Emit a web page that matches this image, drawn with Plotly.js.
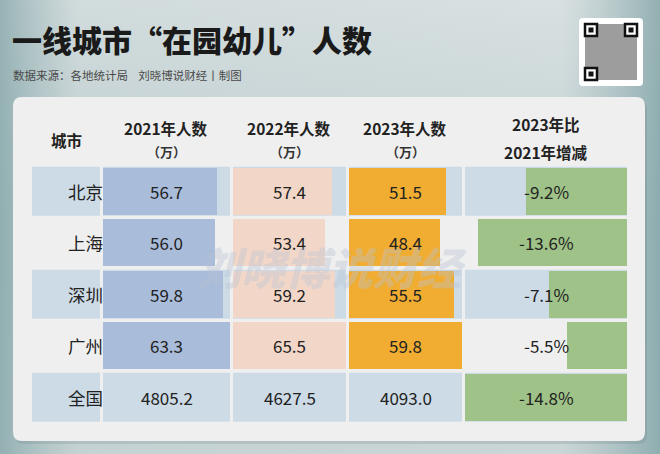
<!DOCTYPE html>
<html>
<head>
<meta charset="utf-8">
<script src="https://cdn.plot.ly/plotly-3.0.1.min.js"></script>
<style>
  html, body { margin: 0; padding: 0; background: #ccd6d8; }
  #plotArea { width: 660px; height: 454px; }
</style>
</head>
<body>
<div id="plotArea"></div>
<script>
var cities = ["北京", "上海", "深圳", "广州", "全国"]
var v2021 = [56.7, 56.0, 59.8, 63.3, 4805.2]
var v2022 = [57.4, 53.4, 59.2, 65.5, 4627.5]
var v2023 = [51.5, 48.4, 55.5, 59.8, 4093.0]
var change = [-9.2, -13.6, -7.1, -5.5, -14.8]   // percent, 2023 vs 2021

var W = 660, H = 454
var FONT = "Noto Sans CJK SC, Noto Sans, sans-serif"

// pixel -> paper helpers
var px = x => x / W
var py = y => 1 - y / H

// the four data-bar columns (pixel edges of each cell)
var cols = [
    { ax: "x", left: 103, right: 230, vals: v2021, color: "#a9bcda" },
    { ax: "x2", left: 233, right: 346, vals: v2022, color: "#f2d7c8" },
    { ax: "x3", left: 349, right: 462, vals: v2023, color: "#f0ad32" },
    { ax: "x4", left: 465, right: 627, vals: change, color: "#9ec287" }
]

// bars: only the four cities for counts, all five rows for the change column
var city4 = cities.slice(0, 4)
var data = cols.map((c, i) => ({
    type: "bar",
    orientation: "h",
    y: i < 3 ? city4 : cities,
    x: i < 3 ? c.vals.slice(0, 4) : c.vals,
    xaxis: c.ax,
    yaxis: "y",
    width: 0.92,
    marker: { color: c.color, line: { width: 0 } },
    hoverinfo: "none",
    textposition: "none"
}))

// background gradient as an svg image
var bgSvg = '<svg xmlns="http://www.w3.org/2000/svg" width="660" height="454">' +
    '<defs><linearGradient id="v" x1="0" y1="0" x2="0" y2="1">' +
    '<stop offset="0" stop-color="#dfe5e6"/><stop offset="0.5" stop-color="#c4d2d4"/><stop offset="1" stop-color="#cfd9da"/></linearGradient>' +
    '<linearGradient id="h" x1="0" y1="0" x2="1" y2="0">' +
    '<stop offset="0" stop-color="#7fa2a5" stop-opacity="0.75"/><stop offset="0.12" stop-color="#9db6b8" stop-opacity="0.2"/>' +
    '<stop offset="0.85" stop-color="#9db6b8" stop-opacity="0.1"/><stop offset="1" stop-color="#7fa2a5" stop-opacity="0.8"/></linearGradient></defs>' +
    '<rect width="660" height="454" fill="url(#v)"/><rect width="660" height="454" fill="url(#h)"/></svg>'

// rounded rectangle path in paper coords
function roundRect(x0, y0, x1, y1, r) {
    var rx = r / W, ry = r / H
    var a = px(x0), b = px(x1), t = py(y0), d = py(y1)
    return "M" + (a + rx) + "," + t + " L" + (b - rx) + "," + t + " Q" + b + "," + t + " " + b + "," + (t - ry) +
        " L" + b + "," + (d + ry) + " Q" + b + "," + d + " " + (b - rx) + "," + d +
        " L" + (a + rx) + "," + d + " Q" + a + "," + d + " " + a + "," + (d + ry) +
        " L" + a + "," + (t - ry) + " Q" + a + "," + t + " " + (a + rx) + "," + t + " Z"
}

var shapes = []
// card shadow + card
shapes.push({ type: "path", xref: "paper", yref: "paper", path: roundRect(15, 100, 647, 444, 9), fillcolor: "rgba(90,110,115,0.18)", line: { width: 0 }, layer: "below" })
shapes.push({ type: "path", xref: "paper", yref: "paper", path: roundRect(13, 97, 645, 441, 9), fillcolor: "#efefef", line: { width: 0 }, layer: "below" })

// striped rows (1st, 3rd, 5th)
var cells = [[32, 100]].concat(cols.map(c => [c.left, c.right]))
cities.forEach((c, i) => {
    if (i % 2 !== 0) return
    cells.forEach(cl => {
        shapes.push({
            type: "rect", xref: "paper", yref: "y",
            x0: px(cl[0]), x1: px(cl[1]), y0: i - 0.475, y1: i + 0.475,
            fillcolor: "#cddbe6", line: { width: 0 }, layer: "below"
        })
    })
})

// QR code placeholder
shapes.push({ type: "path", xref: "paper", yref: "paper", path: roundRect(579, 18, 643, 86, 4), fillcolor: "#ffffff", line: { width: 0 } })
shapes.push({ type: "rect", xref: "paper", yref: "paper", x0: px(585), x1: px(637), y0: py(24), y1: py(80), fillcolor: "rgba(60,60,60,0.5)", line: { width: 0 } })
;[[585, 24], [625, 24], [585, 68]].forEach(p => {
    shapes.push({ type: "rect", xref: "paper", yref: "paper", x0: px(p[0]), x1: px(p[0] + 12), y0: py(p[1]), y1: py(p[1] + 12), fillcolor: "#ffffff", line: { color: "#111", width: 2.5 } })
    shapes.push({ type: "rect", xref: "paper", yref: "paper", x0: px(p[0] + 3.5), x1: px(p[0] + 8.5), y0: py(p[1] + 3.5), y1: py(p[1] + 8.5), fillcolor: "#111", line: { width: 0 } })
})

var annotations = []
function txt(text, x, y, size, opts) {
    annotations.push(Object.assign({
        text: text, xref: "paper", yref: "paper", x: px(x), y: py(y),
        xanchor: "center", yanchor: "middle", showarrow: false,
        font: { family: FONT, size: size, color: "#222" }
    }, opts || {}))
}

// titles
txt("一线城市“在园幼儿”人数", 10, 39, 30, { xanchor: "left", font: { family: FONT, size: 30, color: "#1a1a1a", weight: 900 } })
txt("数据来源：各地统计局&nbsp;&nbsp;&nbsp;&nbsp;刘晓博说财经丨制图", 11, 75, 11.5, { xanchor: "left", font: { family: FONT, size: 11.5, color: "#4a4a4a" } })

// headers
var hb = { family: FONT, size: 15.5, color: "#222", weight: "bold" }
txt("城市", 66, 140, 15.5, { font: hb })
txt("2021年人数", 166, 128, 15.5, { font: hb })
txt("2022年人数", 289, 128, 15.5, { font: hb })
txt("2023年人数", 405, 128, 15.5, { font: hb })
var hs = { family: FONT, size: 13, color: "#333", weight: "bold" }
txt("（万）", 166, 151, 13, { font: hs })
txt("（万）", 289, 151, 13, { font: hs })
txt("（万）", 405, 151, 13, { font: hs })
txt("2023年比", 546, 124, 15.5, { font: hb })
txt("2021年增减", 546, 152, 15.5, { font: hb })

// cell texts
cities.forEach((c, i) => {
    annotations.push({ text: c, xref: "paper", yref: "y", x: px(66), y: c, showarrow: false,
        font: { family: FONT, size: 17.5, color: "#222" } })
    cols.forEach((col, j) => {
        var v = col.vals[i]
        annotations.push({
            text: j < 3 ? v.toFixed(1) : v.toFixed(1) + "%",
            xref: col.ax + " domain", yref: "y", x: 0.5, y: c, showarrow: false,
            font: { family: FONT, size: 17, color: "#222" }
        })
    })
})

// watermark
annotations.push({ text: "刘晓博说财经", xref: "paper", yref: "paper", x: px(332), y: py(266), showarrow: false,
    font: { family: FONT, size: 44, color: "rgba(185,195,212,0.38)", weight: 900, style: "italic" } })

var layout = {
    width: W, height: H,
    margin: { l: 0, r: 0, t: 0, b: 0 },
    paper_bgcolor: "#ccd6d8",
    plot_bgcolor: "rgba(0,0,0,0)",
    showlegend: false,
    bargap: 0,
    images: [{ source: "data:image/svg+xml;charset=utf-8," + encodeURIComponent(bgSvg), xref: "paper", yref: "paper",
        x: 0, y: 1, sizex: 1, sizey: 1, sizing: "stretch", xanchor: "left", yanchor: "top", layer: "below" }],
    yaxis: { type: "category", categoryarray: cities, categoryorder: "array", range: [4.5, -0.5],
        domain: [py(423), py(165.5)], visible: false, fixedrange: true },
    shapes: shapes,
    annotations: annotations
}
cols.forEach((c, i) => {
    var name = i === 0 ? "xaxis" : "xaxis" + (i + 1)
    var vals = i < 3 ? c.vals.slice(0, 4) : c.vals
    layout[name] = {
        domain: [px(c.left), px(c.right)],
        range: i < 3 ? [0, Math.max(...vals)] : [Math.min(...vals), 0],
        anchor: "y", visible: false, fixedrange: true
    }
})

Plotly.newPlot("plotArea", data, layout, { staticPlot: true, displayModeBar: false })
</script>
</body>
</html>
